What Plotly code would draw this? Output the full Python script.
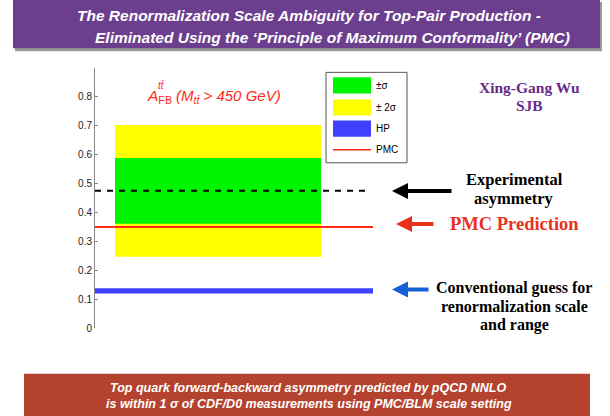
import plotly.graph_objects as go

# ---- data ----
exp_center = 0.475          # experimental asymmetry (dashed)
sigma1_band = [0.361, 0.589]  # +/- 1 sigma (green)
sigma2_band = [0.247, 0.703]  # +/- 2 sigma (yellow)
pmc_value = 0.35            # PMC prediction (red line)
hp_band = [0.120, 0.138]    # conventional scale guess (blue)
band_x = [0.072, 0.813]     # horizontal extent of experimental bands
line_x = [0.0, 1.0]         # extent of PMC / HP lines
dash_x = [0.0, 0.982]       # extent of dashed experimental line
ytick_vals = [0, 0.1, 0.2, 0.3, 0.4, 0.5, 0.6, 0.7, 0.8, 0.9]
ytick_text = ["0", "0.1", "0.2", "0.3", "0.4", "0.5", "0.6", "0.7", "0.8", ""]
legend_labels = ["±σ", "± 2σ", "HP", "PMC"]

W, H = 610, 416          # reference canvas
FIG_H = 424              # rendered figure height (page capture is scaled to 416)
def px(x):
    return x / W
def py(y):
    return 1 - y / H

def rect(xr, yr):
    return ([xr[0], xr[1], xr[1], xr[0], xr[0]],
            [yr[0], yr[0], yr[1], yr[1], yr[0]])

fig = go.Figure()
x2, y2 = rect(band_x, sigma2_band)
fig.add_trace(go.Scatter(x=x2, y=y2, fill="toself", fillcolor="#FFFF00",
                         line=dict(width=0), mode="lines", name=legend_labels[1]))
x1, y1 = rect(band_x, sigma1_band)
fig.add_trace(go.Scatter(x=x1, y=y1, fill="toself", fillcolor="#00F500",
                         line=dict(width=0), mode="lines", name=legend_labels[0]))
fig.add_trace(go.Scatter(x=dash_x, y=[exp_center, exp_center], mode="lines",
                         line=dict(color="black", width=2, dash="6px,6px"),
                         name="Experiment"))
fig.add_trace(go.Scatter(x=line_x, y=[pmc_value, pmc_value], mode="lines",
                         line=dict(color="#FF2A1A", width=2), name=legend_labels[3]))
xh, yh = rect(line_x, hp_band)
fig.add_trace(go.Scatter(x=xh, y=yh, fill="toself", fillcolor="#4040FF",
                         line=dict(width=0), mode="lines", name=legend_labels[2]))

shapes = []
annos = []
# Title banner
shapes.append(dict(type="rect", xref="paper", yref="paper", x0=px(15), x1=px(602),
                   y0=py(51), y1=py(2), fillcolor="#9a9a9a", line=dict(width=0), layer="below"))
shapes.append(dict(type="rect", xref="paper", yref="paper", x0=px(13), x1=px(600),
                   y0=py(48), y1=py(0), fillcolor="#6B3E8E", line=dict(width=0), layer="below"))
# Bottom banner
shapes.append(dict(type="rect", xref="paper", yref="paper", x0=px(24), x1=px(590),
                   y0=py(416), y1=py(372), fillcolor="#B4422E", line=dict(width=0), layer="below"))

title_font = dict(family="Liberation Sans", size=15.5, color="white")
annos.append(dict(xref="paper", yref="paper", x=px(309), y=py(15), showarrow=False,
                  text="<b><i>The Renormalization Scale Ambiguity for Top-Pair Production -</i></b>",
                  font=title_font, xanchor="center", yanchor="middle"))
annos.append(dict(xref="paper", yref="paper", x=px(332), y=py(37), showarrow=False,
                  text="<b><i>Eliminated Using the ‘Principle of Maximum Conformality’ (PMC)</i></b>",
                  font=title_font, xanchor="center", yanchor="middle"))
bot_font = dict(family="Liberation Sans", size=12.5, color="white")
annos.append(dict(xref="paper", yref="paper", x=px(308), y=py(386), showarrow=False,
                  text="<b><i>Top quark forward-backward asymmetry predicted by pQCD NNLO</i></b>",
                  font=bot_font, xanchor="center", yanchor="middle"))
annos.append(dict(xref="paper", yref="paper", x=px(309), y=py(402), showarrow=False,
                  text="<b><i>is within 1 σ of CDF/D0 measurements using PMC/BLM scale setting</i></b>",
                  font=bot_font, xanchor="center", yanchor="middle"))

# A_FB label
red = "#FF2A1A"
annos.append(dict(xref="paper", yref="paper", x=px(145), y=py(96), showarrow=False,
                  text="<i>A</i><sub>FB</sub>", xanchor="left", yanchor="middle",
                  font=dict(family="Liberation Sans", size=15.5, color=red)))
annos.append(dict(xref="paper", yref="paper", x=px(156), y=py(85), showarrow=False,
                  text="<i>tt\u0304</i>", xanchor="left", yanchor="middle",
                  font=dict(family="Liberation Sans", size=10, color=red)))
annos.append(dict(xref="paper", yref="paper", x=px(174), y=py(96), showarrow=False,
                  text="<i>(M<sub>tt\u0304</sub> > 450 GeV)</i>", xanchor="left", yanchor="middle",
                  font=dict(family="Liberation Sans", size=15, color=red)))

# Custom legend
shapes.append(dict(type="rect", xref="paper", yref="paper", x0=px(326), x1=px(407),
                   y0=py(162), y1=py(72), fillcolor="white", line=dict(color="#555555", width=1)))
leg_cols = ["#00F500", "#FFFF00", "#4040FF"]
leg_ys = [85, 107, 128]
for c, yy in zip(leg_cols, leg_ys):
    shapes.append(dict(type="rect", xref="paper", yref="paper", x0=px(333), x1=px(371),
                       y0=py(yy + 8), y1=py(yy - 8), fillcolor=c, line=dict(width=0)))
shapes.append(dict(type="line", xref="paper", yref="paper", x0=px(333), x1=px(371),
                   y0=py(149), y1=py(149), line=dict(color=red, width=1.5)))
for lab, yy in zip(legend_labels, leg_ys + [149]):
    annos.append(dict(xref="paper", yref="paper", x=px(374), y=py(yy), showarrow=False,
                      text=lab, xanchor="left", yanchor="middle",
                      font=dict(family="Liberation Sans", size=10, color="black")))

# Authors
serif = "Liberation Serif"
purple = "#6A2A8A"
annos.append(dict(xref="paper", yref="paper", x=px(529), y=py(87), showarrow=False,
                  text="<b>Xing-Gang Wu</b>", xanchor="center", yanchor="middle",
                  font=dict(family=serif, size=15.5, color=purple)))
annos.append(dict(xref="paper", yref="paper", x=px(529), y=py(105), showarrow=False,
                  text="<b>SJB</b>", xanchor="center", yanchor="middle",
                  font=dict(family=serif, size=15.5, color=purple)))

# Side notes with arrows
annos.append(dict(xref="paper", yref="paper", x=px(514), y=py(179), showarrow=False,
                  text="<b>Experimental</b>", xanchor="center", yanchor="middle",
                  font=dict(family=serif, size=16.5, color="black")))
annos.append(dict(xref="paper", yref="paper", x=px(514), y=py(198), showarrow=False,
                  text="<b>asymmetry</b>", xanchor="center", yanchor="middle",
                  font=dict(family=serif, size=16.5, color="black")))
annos.append(dict(xref="paper", yref="paper", x=px(514), y=py(223), showarrow=False,
                  text="<b>PMC Prediction</b>", xanchor="center", yanchor="middle",
                  font=dict(family=serif, size=18.5, color="#E8321E")))
annos.append(dict(xref="paper", yref="paper", x=px(514), y=py(287), showarrow=False,
                  text="<b>Conventional guess for</b>", xanchor="center", yanchor="middle",
                  font=dict(family=serif, size=16, color="black")))
annos.append(dict(xref="paper", yref="paper", x=px(514), y=py(305), showarrow=False,
                  text="<b>renormalization scale</b>", xanchor="center", yanchor="middle",
                  font=dict(family=serif, size=16, color="black")))
annos.append(dict(xref="paper", yref="paper", x=px(514), y=py(323), showarrow=False,
                  text="<b>and range</b>", xanchor="center", yanchor="middle",
                  font=dict(family=serif, size=16, color="black")))

for (tipx, tipy, tailx, col) in [(392, 190, 453, "black"), (396, 223, 435, "#E8321E"),
                                 (392, 288, 430, "#1560D8")]:
    annos.append(dict(xref="paper", yref="paper", x=px(tipx), y=py(tipy), text="",
                      showarrow=True, ax=tailx - tipx, ay=0, arrowhead=2, arrowsize=0.8,
                      arrowwidth=4, arrowcolor=col))

fig.update_layout(
    width=W, height=FIG_H, margin=dict(l=0, r=0, t=0, b=0),
    paper_bgcolor="white", plot_bgcolor="white", showlegend=False,
    xaxis=dict(domain=[px(95), px(373)], range=[0, 1], visible=False, fixedrange=True),
    yaxis=dict(domain=[py(326.5), py(67.7)], range=[0, 0.9], tickvals=ytick_vals,
               ticktext=ytick_text, ticks="inside", ticklen=3, tickcolor="#888888",
               showline=True, linecolor="#888888", linewidth=1, showgrid=False,
               zeroline=False, fixedrange=True,
               tickfont=dict(family="Liberation Sans", size=10, color="#222222")),
    shapes=shapes, annotations=annos,
)
css_fix = (
    "var s=document.createElement('style');"
    "s.textContent='html,body{margin:0;padding:0;overflow:hidden;}';"
    "document.head.appendChild(s);"
)
fig.write_html("out.html", config={"displayModeBar": False, "staticPlot": True},
               post_script=css_fix)
